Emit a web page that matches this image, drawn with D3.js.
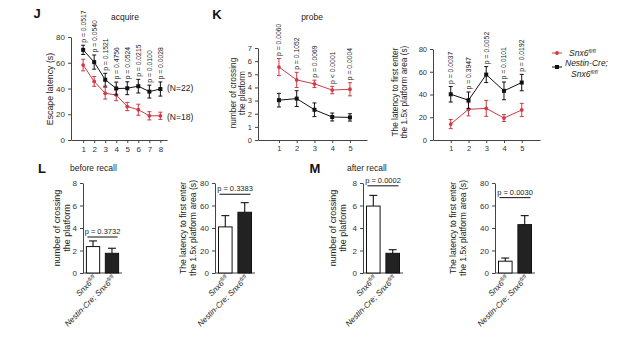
<!DOCTYPE html>
<html>
<head>
<meta charset="utf-8">
<script src="https://cdn.jsdelivr.net/npm/d3@7"></script>
<style>
  body { margin: 0; background: #fff; }
  svg { display: block; font-family: "Liberation Sans", Arial, sans-serif; }
  .axis path, .axis line { stroke: #444; }
  .axis text { fill: #333; }
</style>
</head>
<body>
<svg id="chart" width="640" height="342"></svg>
<script>
// J: acquire (escape latency, days 1-8)
const acqDays = [1, 2, 3, 4, 5, 6, 7, 8];
const acqCtrl = [58.2, 45.5, 36.3, 35, 26, 23.5, 18.8, 18.8];
const acqCtrlErr = [4.5, 3.8, 4.5, 4.5, 3.2, 4.3, 3.2, 2.8];
const acqCre = [70, 60.5, 46.8, 40, 40.2, 41.8, 37.6, 39.6];
const acqCreErr = [3.6, 5.5, 5, 5, 5, 5.3, 5, 5.5];
const acqP = ['p = 0.0517', 'p = 0.0540', 'p = 0.1521', 'p = 0.4756', 'p = 0.0524', 'p = 0.0215', 'p = 0.0100', 'p = 0.0028'];

// K: probe, crossings and latency (trials 1-5)
const probeDays = [1, 2, 3, 4, 5];
const crossCtrl = [5.55, 4.57, 4.27, 3.8, 3.86];
const crossCtrlErr = [0.65, 0.58, 0.28, 0.28, 0.5];
const crossCre = [3.03, 3.15, 2.3, 1.75, 1.72];
const crossCreErr = [0.52, 0.6, 0.52, 0.3, 0.28];
const crossP = ['p = 0.0060', 'p = 0.1052', 'p = 0.0069', 'p < 0.0001', 'p = 0.0004'];

const latCtrl = [14, 27, 27.8, 19.3, 26.4];
const latCtrlErr = [4, 5.8, 7, 3, 5.8];
const latCre = [40.2, 35, 57.5, 43.2, 50.5];
const latCreErr = [6.8, 7.2, 7, 7.8, 7.2];
const latP = ['p = 0.0037', 'p = 0.3947', 'p = 0.0052', 'p = 0.0101', 'p = 0.0192'];

// L / M: recall bars [Snx6 fl/fl, Nestin-Cre; Snx6 fl/fl]
const groups = ['ctrl', 'cre'];
const beforeCross = [2.35, 1.75];
const beforeCrossErr = [0.5, 0.45];
const beforeLat = [41, 54];
const beforeLatErr = [10, 8.5];
const afterCross = [5.95, 1.75];
const afterCrossErr = [0.95, 0.32];
const afterLat = [10.5, 43];
const afterLatErr = [2.8, 8];

const RED = '#cf3a44';
const BLACK = '#111';

const svg = d3.select('#chart');

// rotated axis title, x is the centre of the first line
function yTitle(g, lines, x, yMid, size) {
  lines.forEach((t, i) => {
    g.append('text')
      .attr('transform', `translate(${x + i * size * 1.12},${yMid}) rotate(-90)`)
      .attr('text-anchor', 'middle')
      .attr('dy', '0.35em')
      .attr('font-size', size)
      .attr('fill', '#222')
      .text(t);
  });
}

function linePanel(opt) {
  const g = svg.append('g');
  const x = d3.scaleLinear().domain(opt.xDomain).range(opt.xRange);
  const y = d3.scaleLinear().domain(opt.yDomain).range(opt.yRange);

  g.append('g').attr('class', 'axis')
    .attr('transform', `translate(0,${opt.yRange[0]})`)
    .call(d3.axisBottom(x).tickValues(opt.days).tickFormat(d3.format('d'))
      .tickSize(3).tickSizeOuter(0).tickPadding(3))
    .call(a => a.selectAll('text').attr('font-size', opt.tick));
  g.append('g').attr('class', 'axis')
    .attr('transform', `translate(${opt.xRange[0]},0)`)
    .call(d3.axisLeft(y).tickValues(opt.yTicks).tickFormat(d3.format('d'))
      .tickSize(3).tickSizeOuter(0).tickPadding(3))
    .call(a => a.selectAll('text').attr('font-size', opt.tick));

  opt.series.forEach(s => {
    const line = d3.line().x((d, i) => x(opt.days[i])).y(d => y(d));
    g.append('path').datum(s.values)
      .attr('fill', 'none').attr('stroke', s.color).attr('stroke-width', 1)
      .attr('d', line);
    const eb = g.append('g').attr('stroke', s.color).attr('stroke-width', 1);
    s.values.forEach((v, i) => {
      const cx = x(opt.days[i]);
      const y0 = y(v - s.err[i]), y1 = y(v + s.err[i]);
      eb.append('line').attr('x1', cx).attr('x2', cx).attr('y1', y0).attr('y2', y1);
      eb.append('line').attr('x1', cx - 2).attr('x2', cx + 2).attr('y1', y0).attr('y2', y0);
      eb.append('line').attr('x1', cx - 2).attr('x2', cx + 2).attr('y1', y1).attr('y2', y1);
    });
    g.selectAll(null).data(s.values).join(s.square ? 'rect' : 'circle')
      .each(function (d, i) {
        const el = d3.select(this);
        const cx = x(opt.days[i]), cy = y(d);
        if (s.square) el.attr('x', cx - 2).attr('y', cy - 2).attr('width', 4).attr('height', 4);
        else el.attr('cx', cx).attr('cy', cy).attr('r', 1.9);
      })
      .attr('fill', s.color);
  });

  const top = opt.series[opt.pOn];
  opt.pLabels.forEach((t, i) => {
    const cx = x(opt.days[i]);
    const yt = y(top.values[i] + top.err[i]) - 2.5;
    g.append('text')
      .attr('transform', `translate(${cx},${yt}) rotate(-90)`)
      .attr('dy', '0.35em')
      .attr('font-size', 6.8)
      .attr('fill', '#222')
      .text(t);
  });
  yTitle(g, opt.title, opt.titleX, opt.titleY, opt.titleSize);
  return {g, x, y};
}

function sup(textSel, base, supText, size) {
  textSel.append('tspan').text(base);
  textSel.append('tspan').attr('font-size', size * 0.68).attr('dy', -size * 0.38).text(supText);
}

function barPanel(opt) {
  const g = svg.append('g');
  const x = d3.scaleBand().domain(groups).range([opt.x0, opt.x0 + opt.w])
    .paddingInner(0.3).paddingOuter(0.18);
  const y = d3.scaleLinear().domain([0, opt.yMax]).range([273, 183]);

  g.append('g').attr('class', 'axis')
    .attr('transform', 'translate(0,273)')
    .call(d3.axisBottom(x).tickSize(0).tickFormat(''))
    .call(a => a.select('.domain').attr('d', `M${opt.x0},0H${opt.x0 + opt.w}`));
  g.append('g').attr('class', 'axis')
    .attr('transform', `translate(${opt.x0},0)`)
    .call(d3.axisLeft(y).tickValues(opt.yTicks).tickSize(3).tickSizeOuter(0).tickPadding(3))
    .call(a => a.selectAll('text').attr('font-size', 8));

  g.selectAll('rect.bar').data(opt.values).join('rect')
    .attr('class', 'bar')
    .attr('x', (d, i) => x(groups[i]))
    .attr('width', x.bandwidth())
    .attr('y', d => y(d))
    .attr('height', d => y(0) - y(d))
    .attr('fill', (d, i) => i === 0 ? '#fff' : '#222')
    .attr('stroke', '#111').attr('stroke-width', 1);

  opt.values.forEach((v, i) => {
    const cx = x(groups[i]) + x.bandwidth() / 2;
    const yt = y(v + opt.err[i]);
    g.append('line').attr('x1', cx).attr('x2', cx).attr('y1', y(v)).attr('y2', yt)
      .attr('stroke', '#111').attr('stroke-width', 1.1);
    g.append('line').attr('x1', cx - 4).attr('x2', cx + 4).attr('y1', yt).attr('y2', yt)
      .attr('stroke', '#111').attr('stroke-width', 1.1);
  });

  const ps = y(opt.pY);
  g.append('line')
    .attr('x1', x(groups[0]) + 1).attr('x2', x(groups[1]) + x.bandwidth() - 1)
    .attr('y1', ps).attr('y2', ps).attr('stroke', '#111').attr('stroke-width', 1);
  g.append('text')
    .attr('x', (x(groups[0]) + x(groups[1]) + x.bandwidth()) / 2)
    .attr('y', ps - 3)
    .attr('text-anchor', 'middle').attr('font-size', 7.5).attr('fill', '#222')
    .text(opt.p);

  const labels = [['Snx6', 'fl/fl'], ['Nestin-Cre; Snx6', 'fl/fl']];
  labels.forEach((l, i) => {
    const cx = x(groups[i]) + x.bandwidth() / 2 + 4;
    const t = g.append('text')
      .attr('transform', `translate(${cx},${279}) rotate(-45)`)
      .attr('text-anchor', 'end')
      .attr('font-size', 8).attr('font-style', 'italic').attr('fill', '#222');
    sup(t, l[0], l[1], 8);
  });
  yTitle(g, opt.title, opt.titleX, 228, opt.titleSize);
}

// ---- J
linePanel({
  days: acqDays, xDomain: [-0.1, 8.6], xRange: [71, 167],
  yDomain: [0, 80], yRange: [140, 37], yTicks: [0, 20, 40, 60, 80], tick: 8,
  series: [
    {values: acqCtrl, err: acqCtrlErr, color: RED},
    {values: acqCre, err: acqCreErr, color: BLACK, square: true}
  ],
  pOn: 1, pLabels: acqP,
  title: ['Escape latency (s)'], titleX: 50, titleY: 89, titleSize: 8.8
});
svg.append('text').attr('x', 167).attr('y', 91).attr('font-size', 8.5).attr('fill', '#222').text('(N=22)');
svg.append('text').attr('x', 167).attr('y', 120).attr('font-size', 8.5).attr('fill', '#222').text('(N=18)');

// ---- K left
linePanel({
  days: probeDays, xDomain: [-0.18, 5.96], xRange: [258, 367],
  yDomain: [0, 7], yRange: [140, 48], yTicks: [0, 1, 2, 3, 4, 5, 6, 7], tick: 7.5,
  series: [
    {values: crossCtrl, err: crossCtrlErr, color: RED},
    {values: crossCre, err: crossCreErr, color: BLACK, square: true}
  ],
  pOn: 0, pLabels: crossP,
  title: ['number of crossing', 'the platform'], titleX: 233, titleY: 93, titleSize: 8.3
});

// ---- K right
linePanel({
  days: probeDays, xDomain: [0, 6.03], xRange: [433, 540],
  yDomain: [0, 80], yRange: [140, 49], yTicks: [0, 20, 40, 60, 80], tick: 7.5,
  series: [
    {values: latCtrl, err: latCtrlErr, color: RED},
    {values: latCre, err: latCreErr, color: BLACK, square: true}
  ],
  pOn: 1, pLabels: latP,
  title: ['The latency to first enter', 'the 1.5x platform area (s)'], titleX: 395, titleY: 92, titleSize: 8.3
});

// legend
const leg = svg.append('g').attr('font-style', 'italic').attr('font-size', 8.5).attr('fill', '#222');
leg.append('line').attr('x1', 552).attr('x2', 562).attr('y1', 53).attr('y2', 53).attr('stroke', RED);
leg.append('circle').attr('cx', 557).attr('cy', 53).attr('r', 1.9).attr('fill', RED);
sup(leg.append('text').attr('x', 569).attr('y', 56), 'Snx6', 'fl/fl', 8.5);
leg.append('line').attr('x1', 552).attr('x2', 562).attr('y1', 67).attr('y2', 67).attr('stroke', BLACK);
leg.append('rect').attr('x', 555).attr('y', 65).attr('width', 4).attr('height', 4).attr('fill', BLACK);
leg.append('text').attr('x', 565).attr('y', 66).text('Nestin-Cre;');
sup(leg.append('text').attr('x', 571).attr('y', 77), 'Snx6', 'fl/fl', 8.5);

// ---- L and M bars
barPanel({x0: 83, w: 39, yMax: 8, yTicks: [0, 2, 4, 6, 8], values: beforeCross, err: beforeCrossErr,
  pY: 3.2, p: 'p = 0.3732', title: ['number of crossing', 'the platform'], titleX: 57, titleSize: 9});
barPanel({x0: 215, w: 40, yMax: 80, yTicks: [0, 20, 40, 60, 80], values: beforeLat, err: beforeLatErr,
  pY: 70, p: 'p = 0.3383', title: ['The latency to first enter', 'the 1.5x platform area (s)'], titleX: 183, titleSize: 8.6});
barPanel({x0: 363, w: 40, yMax: 8, yTicks: [0, 2, 4, 6, 8], values: afterCross, err: afterCrossErr,
  pY: 7.75, p: 'p = 0.0002', title: ['number of crossing', 'the platform'], titleX: 333, titleSize: 9});
barPanel({x0: 495, w: 40, yMax: 80, yTicks: [0, 20, 40, 60, 80], values: afterLat, err: afterLatErr,
  pY: 67, p: 'p = 0.0030', title: ['The latency to first enter', 'the 1.5x platform area (s)'], titleX: 453, titleSize: 8.6});

// panel letters and titles
const letters = [['J', 37, 18], ['K', 217, 19], ['L', 42, 173], ['M', 315, 173]];
letters.forEach(([t, lx, ly]) => {
  svg.append('text').attr('x', lx).attr('y', ly).attr('font-size', 13).attr('font-weight', 'bold')
    .attr('text-anchor', 'middle').attr('fill', '#111').text(t);
});
const titles = [['acquire', 125, 20, 'middle'], ['probe', 312, 20, 'middle'], ['before recall', 70, 171, 'start'], ['after recall', 347, 171, 'start']];
titles.forEach(([t, tx, ty, anc]) => {
  svg.append('text').attr('x', tx).attr('y', ty).attr('font-size', 8.5).attr('text-anchor', anc)
    .attr('fill', '#222').text(t);
});
</script>
</body>
</html>
